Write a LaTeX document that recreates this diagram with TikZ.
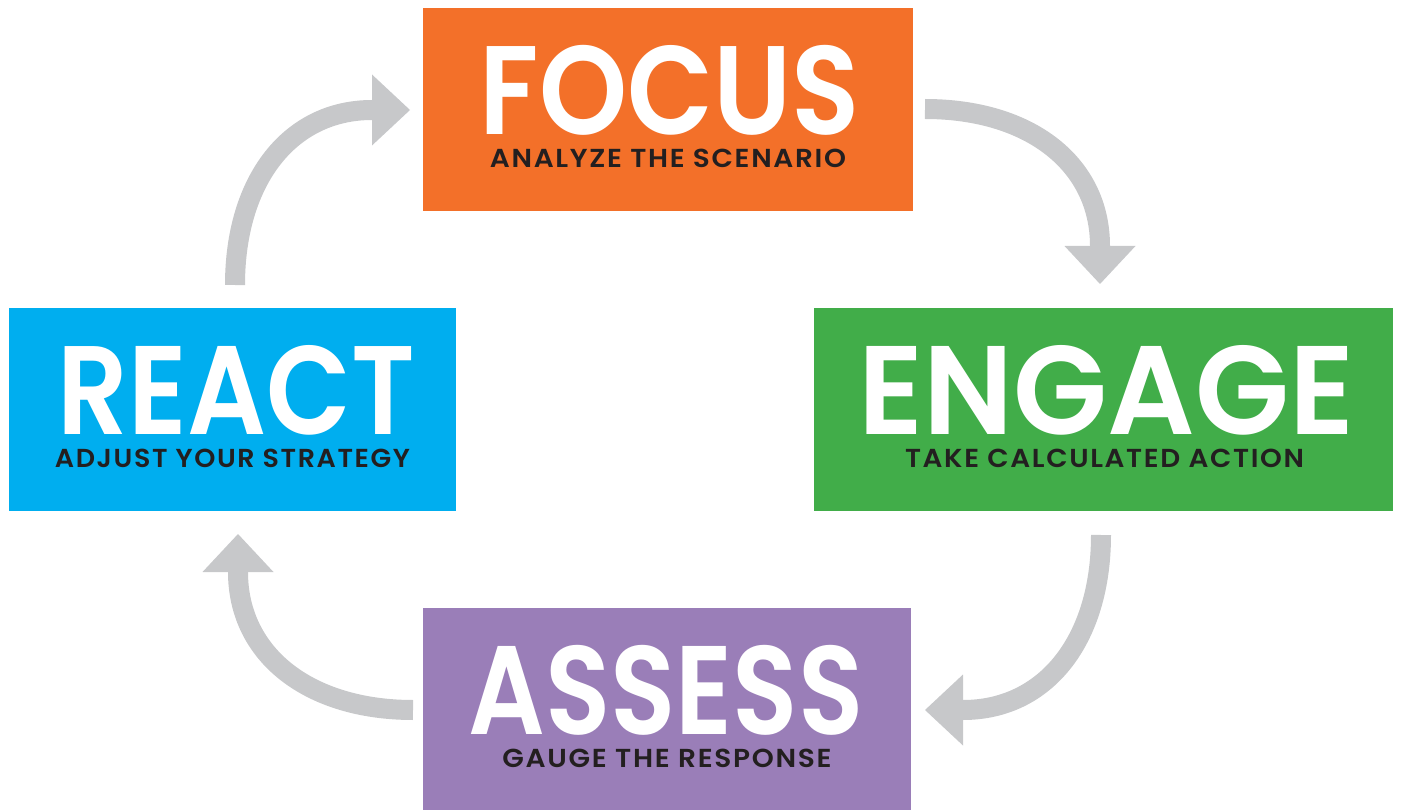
\documentclass[tikz,border=0pt]{standalone}
\usepackage{fontspec}
\setmainfont{Poppins}
\newfontfamily\titlefont{Poppins SemiBold}
\newfontfamily\subfont[LetterSpace=6]{Poppins SemiBold}
\usetikzlibrary{arrows.meta,calc}

\definecolor{focusorange}{HTML}{F37029}
\definecolor{engagegreen}{HTML}{41AD49}
\definecolor{reactblue}{HTML}{00AEEF}
\definecolor{assesspurple}{HTML}{9A7EB8}
\definecolor{cyclegray}{HTML}{C7C8CA}
\definecolor{subdark}{HTML}{231F20}

% set a word to a given width, keeping its height
\newcommand{\fitto}[2]{\resizebox{#1}{\height}{#2}}

\begin{document}
\begin{tikzpicture}[x=1pt,y=-1pt,
  stagebox/.style={rectangle, draw=none, inner sep=0pt, minimum height=203pt},
  stagetitle/.style={anchor=base, inner sep=0pt, text=white,
    font=\titlefont\fontsize{126}{126}\selectfont},
  stagesub/.style={anchor=base, inner sep=0pt, text=subdark,
    font=\subfont\fontsize{26}{26}\selectfont},
  cyclearrow/.style={draw=cyclegray, line width=20pt,
    -{Triangle[width=71pt,length=38pt,line width=0pt]}}]

\useasboundingbox (0,0) rectangle (1401,810);

% the four stages
\node[stagebox, fill=focusorange,  minimum width=490pt] (focus)  at (668,109.5) {};
\node[stagebox, fill=engagegreen,  minimum width=579pt] (engage) at (1103.5,409.5) {};
\node[stagebox, fill=assesspurple, minimum width=488pt] (assess) at (667,709.5) {};
\node[stagebox, fill=reactblue,    minimum width=447pt] (react)  at (232.5,409.5) {};

% titles and subtitles
\node[stagetitle] (focusT)  at ($(focus.north)+(2,127)$)  {\fitto{380pt}{FOCUS}};
\node[stagesub]   (focusS)  at ($(focus.north)+(0,160)$)  {\fitto{356pt}{ANALYZE THE SCENARIO}};
\node[stagetitle] (engageT) at ($(engage.north)+(3,127)$) {\fitto{496pt}{ENGAGE}};
\node[stagesub]   (engageS) at ($(engage.north)+(1,160)$) {\fitto{399pt}{TAKE CALCULATED ACTION}};
\node[stagetitle] (assessT) at ($(assess.north)+(-1,127)$) {\fitto{395pt}{ASSESS}};
\node[stagesub]   (assessS) at ($(assess.north)+(0,160)$) {\fitto{329pt}{GAUGE THE RESPONSE}};
\node[stagetitle] (reactT)  at ($(react.north)+(4,127)$)  {\fitto{357pt}{REACT}};
\node[stagesub]   (reactS)  at ($(react.north)+(0,160)$)  {\fitto{355pt}{ADJUST YOUR STRATEGY}};

% arrow end points
\coordinate (a1s) at (925,109);
\coordinate (a1e) at (1100,284);
\coordinate (a2s) at (1101,535);
\coordinate (a2e) at (925,710);
\coordinate (a3s) at (413,710);
\coordinate (a3e) at (238,534);
\coordinate (a4s) at (235,285);
\coordinate (a4e) at (410,110);

% curved arrows of the cycle
\draw[cyclearrow] (a1s) .. controls (1030,109) and (1100,164) .. (1100,246) -- (a1e);
\draw[cyclearrow] (a2s) .. controls (1101,640) and (1046,710) .. (963,710) -- (a2e);
\draw[cyclearrow] (a3s) .. controls (309,710) and (238,655) .. (238,572) -- (a3e);
\draw[cyclearrow] (a4s) .. controls (235,180) and (290,110) .. (372,110) -- (a4e);
\end{tikzpicture}
\end{document}
